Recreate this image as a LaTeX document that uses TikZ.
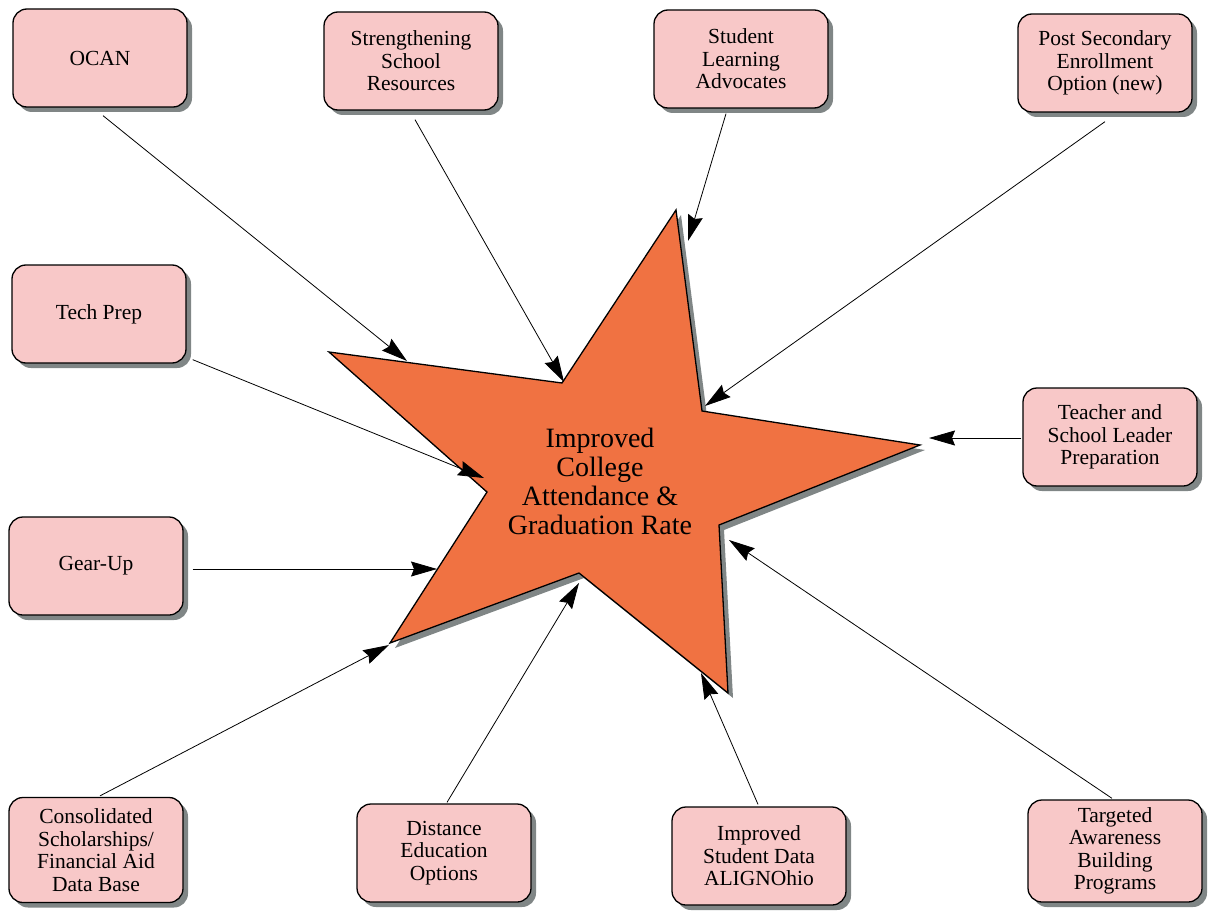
\documentclass[tikz,border=0pt]{standalone}
\usepackage{fontspec}
\setmainfont{Liberation Serif}
\usetikzlibrary{arrows.meta,shadows}
\definecolor{boxpink}{RGB}{248,200,200}
\definecolor{starorange}{RGB}{240,114,66}
\definecolor{shadowgray}{RGB}{128,134,134}
\tikzset{
  box/.style={draw=black, line width=1.3pt, fill=boxpink, rounded corners=14pt,
    minimum width=174pt, minimum height=98pt, align=center,
    font=\fontsize{21.5}{22.5}\selectfont,
    drop shadow={shadow xshift=5pt, shadow yshift=-5pt, fill=shadowgray, opacity=1}},
  arr/.style={-{Stealth[length=26pt,width=15pt,inset=3pt]}, line width=0.8pt}
}
\begin{document}
\begin{tikzpicture}[x=1pt,y=-1pt]
\useasboundingbox (0,0) rectangle (1209,920);
% star
\draw [fill=shadowgray,draw=none,shift={(5,5)}] (676,210) -- (702,411) -- (920,445) -- (719,525) -- (728,693)
  -- (579,573) -- (390,643) -- (487,492) -- (329,352) -- (562,383) -- cycle;
\draw [fill=starorange,line width=1.3pt] (676,210) -- (702,411) -- (920,445) -- (719,525) -- (728,693)
  -- (579,573) -- (390,643) -- (487,492) -- (329,352) -- (562,383) -- cycle;
\node (goal) at (600,481) [align=center,font=\fontsize{28}{29}\selectfont]
  {Improved\\College\\Attendance \&\\Graduation Rate};
% arrow tips on the star
\coordinate (tocan) at (407,361);
\coordinate (tstrength) at (564,382);
\coordinate (tadvocates) at (688,241);
\coordinate (tpseo) at (705,406);
\coordinate (ttechprep) at (484,478);
\coordinate (tteacher) at (929,438);
\coordinate (tgearup) at (437,569);
\coordinate (tscholar) at (389,645);
\coordinate (tdistance) at (579,583);
\coordinate (talign) at (701,673);
\coordinate (ttargeted) at (729,540);
% boxes
\node [box] (ocan) at (100,58) {OCAN};
\node [box] (strength) at (411,61) {Strengthening\\School\\Resources};
\node [box] (advocates) at (741,59) {Student\\Learning\\Advocates};
\node [box] (pseo) at (1105,63) {Post Secondary\\Enrollment\\Option (new)};
\node [box] (techprep) at (99,314) {Tech Prep};
\node [box] (teacher) at (1110,437) {Teacher and\\School Leader\\Preparation};
\node [box] (gearup) at (96,566) {Gear-Up};
\node [box,minimum height=105pt] (scholar) at (96,850) {Consolidated\\Scholarships/\\Financial Aid\\Data Base};
\node [box] (distance) at (444,853) {Distance\\Education\\Options};
\node [box] (align) at (759,856) {Improved\\Student Data\\ALIGNOhio};
\node [box,minimum height=102pt] (targeted) at (1115,851) {Targeted\\Awareness\\Building\\Programs};
% connectors
\draw [arr] ([shift={(3,8)}]ocan.south) -- (tocan);
\draw [arr] ([shift={(4,9)}]strength.south) -- (tstrength);
\draw [arr] ([shift={(-15,5)}]advocates.south) -- (tadvocates);
\draw [arr] ([shift={(0,9)}]pseo.south) -- (tpseo);
\draw [arr] ([shift={(6,-4)}]techprep.south east) -- (ttechprep);
\draw [arr] ([shift={(-1,1)}]teacher.west) -- (tteacher);
\draw [arr] ([shift={(9,3)}]gearup.east) -- (tgearup);
\draw [arr] ([shift={(4,-1)}]scholar.north) -- (tscholar);
\draw [arr] ([shift={(3,-1)}]distance.north) -- (tdistance);
\draw [arr] ([shift={(-1,-2)}]align.north) -- (talign);
\draw [arr] ([shift={(-3,-1)}]targeted.north) -- (ttargeted);
\end{tikzpicture}
\end{document}
